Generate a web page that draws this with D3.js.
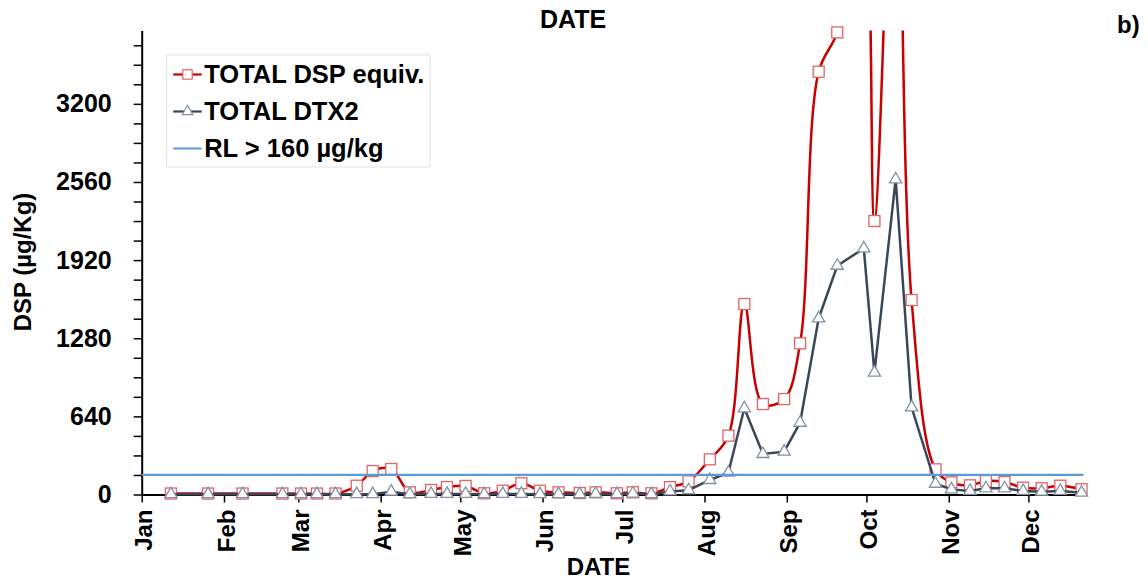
<!DOCTYPE html>
<html>
<head>
<meta charset="utf-8">
<script src="https://cdn.jsdelivr.net/npm/d3@7"></script>
<style>
  body { margin: 0; background: #fff; }
  svg { display: block; font-family: "Liberation Sans", Arial, sans-serif; font-weight: bold; }
</style>
</head>
<body>
<svg id="chart" width="1148" height="581"></svg>
<script>
// Sampling dates and toxin values (µg/kg)
const sampleDates = [
  "2019-01-12", "2019-01-26", "2019-02-08", "2019-02-23", "2019-03-02", "2019-03-08",
  "2019-03-15", "2019-03-23", "2019-03-29", "2019-04-05", "2019-04-12", "2019-04-20",
  "2019-04-26", "2019-05-03", "2019-05-10", "2019-05-17", "2019-05-24", "2019-05-31",
  "2019-06-07", "2019-06-15", "2019-06-21", "2019-06-29", "2019-07-05", "2019-07-12",
  "2019-07-19", "2019-07-26", "2019-08-03", "2019-08-10", "2019-08-16", "2019-08-23",
  "2019-08-31", "2019-09-06", "2019-09-13", "2019-09-20", "2019-09-30", "2019-10-04",
  "2019-10-12", "2019-10-18", "2019-10-27", "2019-11-02", "2019-11-09", "2019-11-15",
  "2019-11-22", "2019-11-29", "2019-12-06", "2019-12-13", "2019-12-21"
];
const totalDspEquiv = [
  8, 8, 8, 8, 8, 8,
  8, 72, 192, 209, 18, 37,
  61, 70, 10, 31, 92, 31,
  18, 12, 18, 10, 18, 10,
  60, 108, 288, 482, 1560, 741,
  782, 1238, 3463, 3785, 4800, 2240,
  6000, 1593, 206, 100, 75, 110,
  102, 56, 51, 72, 43
];
const totalDtx2 = [
  3, 3, 3, 3, 3, 3,
  3, 3, 3, 23, 3, 5,
  5, 5, 3, 5, 5, 3,
  3, 3, 5, 3, 8, 3,
  25, 35, 119, 179, 706, 332,
  351, 588, 1443, 1874, 2016, 998,
  2582, 714, 88, 42, 29, 51,
  51, 29, 23, 29, 15
];
const regulatoryLimit = 160;
const monthLabels = ["Jan", "Feb", "Mar", "Apr", "May", "Jun", "Jul", "Aug", "Sep", "Oct", "Nov", "Dec"];
const yTickLabels = [0, 640, 1280, 1920, 2560, 3200];
const yMinorStep = 160;
const legendLabels = ["TOTAL DSP equiv.", "TOTAL DTX2", "RL > 160 \u00b5g/kg"];

const red = "#c80000";
const redMarker = "#e06464";
const slate = "#3a4759";
const slateMarker = "#8592a4";
const blue = "#5b9bd5";

const plot = { left: 141.7, right: 1081.5, top: 30.6, bottom: 494.5 };

const svg = d3.select("#chart");
const parse = d3.timeParse("%Y-%m-%d");
const dates = sampleDates.map(parse);

const x = d3.scaleTime()
  .domain([new Date(2019, 0, 1), new Date(2019, 11, 21)])
  .range([plot.left, plot.right]);
const y = d3.scaleLinear()
  .domain([0, 3800])
  .range([plot.bottom, plot.top]);

svg.append("defs").append("clipPath")
  .attr("id", "plot-clip")
  .append("rect")
  .attr("x", plot.left)
  .attr("y", plot.top)
  .attr("width", plot.right - plot.left + 10)
  .attr("height", plot.bottom - plot.top + 10);

// Axes
const yAxis = d3.axisLeft(y)
  .tickValues(d3.range(0, 3700, yMinorStep))
  .tickSize(8)
  .tickSizeOuter(0)
  .tickPadding(22)
  .tickFormat(d => yTickLabels.includes(d) ? d : "");

const yG = svg.append("g")
  .attr("transform", `translate(${plot.left},0)`)
  .call(yAxis);
yG.select(".domain").attr("stroke", "#000").attr("stroke-width", 2);
yG.selectAll(".tick line").attr("stroke", "#000").attr("stroke-width", 1.5);
yG.selectAll("text")
  .attr("fill", "#000")
  .style("font-size", "25px")
  .style("font-weight", "bold")
  .style("font-family", "'Liberation Sans', Arial, sans-serif");

const xAxis = d3.axisBottom(x)
  .ticks(d3.timeMonth.every(1))
  .tickSize(8)
  .tickSizeOuter(0)
  .tickFormat(d => monthLabels[d.getMonth()]);

const xG = svg.append("g")
  .attr("transform", `translate(0,${plot.bottom})`)
  .call(xAxis);
xG.select(".domain").attr("stroke", "#000").attr("stroke-width", 2);
xG.selectAll(".tick line").attr("stroke", "#000").attr("stroke-width", 1.5);
xG.selectAll("text")
  .attr("fill", "#000")
  .attr("transform", "rotate(-90)")
  .attr("text-anchor", "end")
  .attr("x", -15)
  .attr("y", 0)
  .attr("dy", "0.42em")
  .style("font-size", "24px")
  .style("font-weight", "bold")
  .style("font-family", "'Liberation Sans', Arial, sans-serif");

// Series
const dspPoints = dates.map((d, i) => ({ date: d, value: totalDspEquiv[i] }));
const dtxPoints = dates.map((d, i) => ({ date: d, value: totalDtx2[i] }));

const smoothLine = d3.line()
  .x(d => x(d.date))
  .y(d => y(d.value))
  .curve(d3.curveCatmullRom.alpha(0.5));
const straightLine = d3.line()
  .x(d => x(d.date))
  .y(d => y(d.value));

svg.append("path")
  .datum(dspPoints)
  .attr("clip-path", "url(#plot-clip)")
  .attr("fill", "none")
  .attr("stroke", red)
  .attr("stroke-width", 2.5)
  .attr("d", smoothLine);

svg.append("g")
  .selectAll("rect")
  .data(dspPoints.filter(d => d.value <= 3800))
  .join("rect")
  .attr("x", d => x(d.date) - 5.5)
  .attr("y", d => y(d.value) - 5.5)
  .attr("width", 11)
  .attr("height", 11)
  .attr("fill", "#fff")
  .attr("stroke", redMarker)
  .attr("stroke-width", 1.3);

svg.append("path")
  .datum(dtxPoints)
  .attr("fill", "none")
  .attr("stroke", slate)
  .attr("stroke-width", 2.5)
  .attr("d", straightLine);

const triangle = d3.symbol().type(d3.symbolTriangle).size(64);
svg.append("g")
  .selectAll("path")
  .data(dtxPoints)
  .join("path")
  .attr("transform", d => `translate(${x(d.date)},${y(d.value)})`)
  .attr("d", triangle)
  .attr("fill", "#fff")
  .attr("stroke", slateMarker)
  .attr("stroke-width", 1.3);

svg.append("line")
  .attr("x1", plot.left)
  .attr("x2", plot.right + 2)
  .attr("y1", y(regulatoryLimit))
  .attr("y2", y(regulatoryLimit))
  .attr("stroke", blue)
  .attr("stroke-width", 2.2);

// Titles
svg.append("text")
  .attr("x", 573)
  .attr("y", 28)
  .attr("text-anchor", "middle")
  .style("font-size", "25px")
  .text("DATE");

svg.append("text")
  .attr("x", 598.5)
  .attr("y", 575)
  .attr("text-anchor", "middle")
  .style("font-size", "24px")
  .text("DATE");

svg.append("text")
  .attr("transform", "translate(23,262) rotate(-90)")
  .attr("text-anchor", "middle")
  .attr("dy", "0.35em")
  .style("font-size", "24px")
  .text("DSP (\u00b5g/Kg)");

svg.append("text")
  .attr("x", 1117)
  .attr("y", 33)
  .style("font-size", "24px")
  .text("b)");

// Legend
const legend = svg.append("g").attr("transform", "translate(166.7,55)");
legend.append("rect")
  .attr("width", 263.3)
  .attr("height", 112)
  .attr("fill", "#fff")
  .attr("stroke", "#e2e2e2")
  .attr("stroke-width", 1);

const legendRows = legend.selectAll("g.row")
  .data(legendLabels)
  .join("g")
  .attr("class", "row")
  .attr("transform", (d, i) => `translate(0,${19.5 + i * 37})`);

legendRows.append("line")
  .attr("x1", 6.5)
  .attr("x2", 35)
  .attr("stroke", (d, i) => [red, slate, blue][i])
  .attr("stroke-width", (d, i) => i === 2 ? 2 : 2.2);

legendRows.filter((d, i) => i === 0)
  .append("rect")
  .attr("x", 20.8 - 4.7)
  .attr("y", -4.7)
  .attr("width", 9.4)
  .attr("height", 9.4)
  .attr("fill", "#fff")
  .attr("stroke", redMarker)
  .attr("stroke-width", 1.2);

legendRows.filter((d, i) => i === 1)
  .append("path")
  .attr("transform", "translate(20.8,0)")
  .attr("d", d3.symbol().type(d3.symbolTriangle).size(48))
  .attr("fill", "#fff")
  .attr("stroke", slateMarker)
  .attr("stroke-width", 1.2);

legendRows.append("text")
  .attr("x", 37.5)
  .attr("dy", "0.32em")
  .style("font-size", "25.5px")
  .text(d => d);
</script>
</body>
</html>
